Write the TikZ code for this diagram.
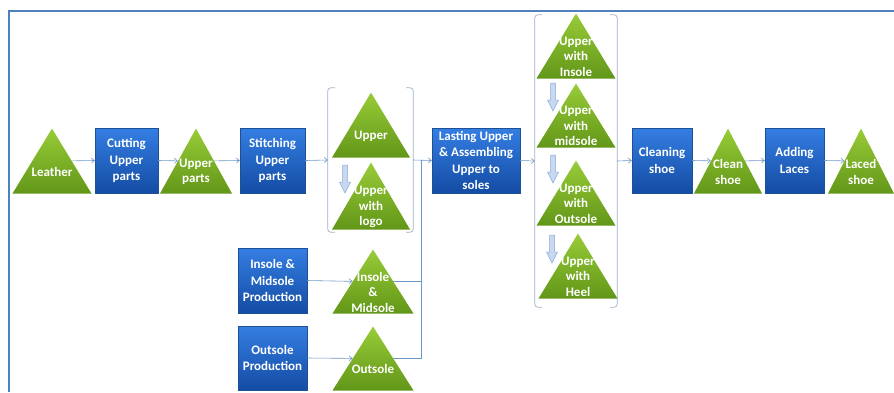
\documentclass[tikz,border=0pt]{standalone}
\usepackage{fontspec}
\setmainfont{Carlito}
\usetikzlibrary{shapes.geometric,calc,arrows.meta}
\definecolor{frameblue}{RGB}{79,129,189}
\definecolor{boxtop}{RGB}{52,126,226}
\definecolor{boxbot}{RGB}{20,76,164}
\definecolor{boxline}{RGB}{30,80,150}
\definecolor{tritop}{RGB}{152,204,56}
\definecolor{tribot}{RGB}{98,150,24}
\definecolor{conncol}{RGB}{110,150,200}
\definecolor{brkcol}{RGB}{160,175,200}
\definecolor{arrfill}{RGB}{200,216,240}
\definecolor{arrdraw}{RGB}{140,170,215}
\tikzset{
  boxnode/.style={rectangle, draw=boxline, line width=0.4pt, top color=boxtop, bottom color=boxbot,
    minimum height=65pt, inner sep=0pt, text=white, font=\fontsize{13}{16.5}\selectfont\bfseries, align=center},
  trinode/.style={isosceles triangle, isosceles triangle stretches, shape border rotate=90,
    draw=none, top color=tritop, bottom color=tribot, inner sep=0pt, minimum height=65pt, anchor=apex},
  tritext/.style={text=white, font=\fontsize{13}{15.5}\selectfont\bfseries, align=center, inner sep=0pt},
  conn/.style={draw=conncol, line width=0.6pt, -{Straight Barb[length=3pt,width=5pt]}},
  plainconn/.style={draw=conncol, line width=0.6pt},
  grp/.style={rectangle, draw=none, inner sep=0pt},
  brk/.style={draw=brkcol, line width=0.7pt, rounded corners=3pt},
  pics/darr/.style={code={\draw[fill=arrfill, draw=arrdraw, line width=0.5pt]
     (-2.5,0) -- (2.5,0) -- (2.5,17) -- (5.5,17) -- (0,28) -- (-5.5,17) -- (-2.5,17) -- cycle;}}
}
\begin{document}
\begin{tikzpicture}[x=1pt,y=-1pt]
\useasboundingbox (0,0) rectangle (894,392);
% frame
\draw[frameblue, line width=2pt] (8.5,392) -- (8.5,11) -- (894,11);

% main row
\node[trinode, minimum width=79pt] (leather) at (52,128) {};
\node[tritext] (leather-t) at ($(leather.apex)!2/3!(leather.lower side)$) {Leather};
\node[boxnode, minimum width=63pt] (cut) at (126.5,160.5) {Cutting\\Upper\\parts};
\node[trinode, minimum width=72pt] (uparts) at (196,128) {};
\node[tritext] (uparts-t) at ($(uparts.apex)!2/3!(uparts.lower side)$) {Upper\\parts};
\node[boxnode, minimum width=65pt] (stitch) at (272.5,160.5) {Stitching\\Upper\\parts};

% group 1
\node[grp, minimum width=85pt, minimum height=144pt] (g1) at (370.5,160) {};
\draw[brk] ([xshift=7pt]g1.north west) -- (g1.north west) -- (g1.south west) -- ([xshift=7pt]g1.south west);
\draw[brk] ([xshift=-7pt]g1.north east) -- (g1.north east) -- (g1.south east) -- ([xshift=-7pt]g1.south east);
\node[trinode, minimum width=78pt] (upper) at (371,92) {};
\node[tritext] (upper-t) at ($(upper.apex)!2/3!(upper.lower side)$) {Upper};
\node[trinode, minimum width=78pt, minimum height=67pt] (logo) at (371,162) {};
\node[tritext] (logo-t) at ($(logo.apex)!2/3!(logo.lower side)$) {Upper\\with\\logo};
\pic at (345,165) {darr};

\node[boxnode, minimum width=88pt] (last) at (476,160.5) {Lasting Upper\\\& Assembling\\Upper to\\soles};

% group 2
\node[grp, minimum width=82pt, minimum height=292pt] (g2) at (576,161) {};
\draw[brk] ([xshift=7pt]g2.north west) -- (g2.north west) -- (g2.south west) -- ([xshift=7pt]g2.south west);
\draw[brk] ([xshift=-7pt]g2.north east) -- (g2.north east) -- (g2.south east) -- ([xshift=-7pt]g2.south east);
\node[trinode, minimum width=79pt] (wins) at (576,13) {};
\node[tritext] (wins-t) at ($(wins.apex)!2/3!(wins.lower side)$) {Upper\\with\\Insole};
\node[trinode, minimum width=79pt, minimum height=64pt] (wmid) at (576,83) {};
\node[tritext] (wmid-t) at ($(wmid.apex)!2/3!(wmid.lower side)$) {Upper\\with\\midsole};
\node[trinode, minimum width=79pt] (wout) at (576,160) {};
\node[tritext] (wout-t) at ($(wout.apex)!2/3!(wout.lower side)$) {Upper\\with\\Outsole};
\node[trinode, minimum width=79pt] (wheel) at (578,233) {};
\node[tritext] (wheel-t) at ($(wheel.apex)!2/3!(wheel.lower side)$) {Upper\\with\\Heel};
\pic at (553,83) {darr};
\pic at (553,155) {darr};
\pic at (552,235) {darr};

\node[boxnode, minimum width=60pt] (clean) at (662,160.5) {Cleaning\\shoe};
\node[trinode, minimum width=68pt] (cshoe) at (728,128) {};
\node[tritext] (cshoe-t) at ($(cshoe.apex)!2/3!(cshoe.lower side)$) {Clean\\shoe};
\node[boxnode, minimum width=59pt] (laces) at (794.5,160.5) {Adding\\Laces};
\node[trinode, minimum width=66pt] (laced) at (861,128) {};
\node[tritext] (laced-t) at ($(laced.apex)!2/3!(laced.lower side)$) {Laced\\shoe};

% lower rows
\node[boxnode, minimum width=69pt] (insprod) at (272.5,280.5) {Insole \&\\Midsole\\Production};
\node[trinode, minimum width=81pt, minimum height=64pt] (insmid) at (373,249) {};
\node[tritext] (insmid-t) at ($(insmid.apex)!2/3!(insmid.lower side)$) {Insole\\\&\\Midsole};
\node[boxnode, minimum width=69pt, minimum height=64pt] (outprod) at (272.5,358) {Outsole\\Production};
\node[trinode, minimum width=81pt, minimum height=64pt] (outsole) at (373,326) {};
\node[tritext] (outsole-t) at ($(outsole.apex)!2/3!(outsole.lower side)$) {Outsole};

% connectors
\draw[conn] (leather.right side) -- (cut.west);
\draw[conn] (cut.east) -- (uparts.left side);
\draw[conn] (uparts.right side) -- (stitch.west);
\draw[conn] (stitch.east) -- (g1.west);
\coordinate (join) at ($(g1.east)!0.42!(last.west)$);
\draw[conn] (g1.east) -- (last.west);
\draw[plainconn] (insmid.right side) -| (join);
\draw[plainconn] (outsole.right side) -| (join);
\draw[conn] (insprod.east) -- (insmid.left side);
\draw[conn] (outprod.east) -- (outsole.left side);
\draw[conn] (last.east) -- (g2.west);
\draw[conn] (g2.east) -- (clean.west);
\draw[conn] (clean.east) -- (cshoe.left side);
\draw[conn] (cshoe.right side) -- (laces.west);
\draw[conn] (laces.east) -- (laced.left side);
\end{tikzpicture}
\end{document}
